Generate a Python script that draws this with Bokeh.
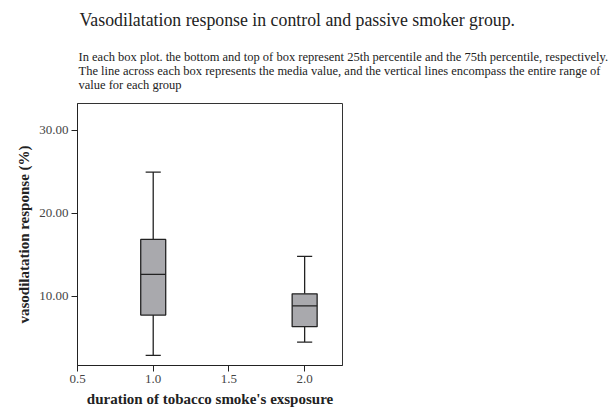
from bokeh.plotting import figure
from bokeh.models import Range1d, Title, FixedTicker, CustomJSTickFormatter, ColumnDataSource
from bokeh.embed import file_html
from bokeh.resources import INLINE

groups = [1.0, 2.0]
mins = [2.9, 4.5]
q1 = [7.75, 6.35]
medians = [12.65, 8.85]
q3 = [16.85, 10.3]
maxs = [24.95, 14.8]
x_ticks = [0.5, 1.0, 1.5, 2.0]
y_ticks = [10, 20, 30]

title_text = "Vasodilatation response in control and passive smoker group."
subtitle_text = ("In each box plot. the bottom and top of box represent 25th percentile and the 75th percentile, respectively.\n"
                 "The line across each box represents the media value, and the vertical lines encompass the entire range of\n"
                 "value for each group")

FONT = "'Liberation Serif', serif"
box_w = 0.165
cap_w = 0.1

src = ColumnDataSource(dict(
    x=groups, lo=mins, q1=q1, med=medians, q3=q3, hi=maxs,
    left=[g - box_w / 2 for g in groups], right=[g + box_w / 2 for g in groups],
    cl=[g - cap_w / 2 for g in groups], cr=[g + cap_w / 2 for g in groups],
))

p = figure(width=610, height=412, output_backend="svg", toolbar_location=None,
           x_range=Range1d(0.5, 2.25), y_range=Range1d(1.68, 33.2),
           min_border_left=77, min_border_right=268, min_border_bottom=47, min_border_top=103)
p.title = None
p.grid.visible = False
p.background_fill_color = "white"
p.outline_line_color = "#333333"

# whiskers
p.segment(x0="x", y0="q3", x1="x", y1="hi", source=src, line_color="#222222", line_width=1.3)
p.segment(x0="x", y0="lo", x1="x", y1="q1", source=src, line_color="#222222", line_width=1.3)
p.segment(x0="cl", y0="hi", x1="cr", y1="hi", source=src, line_color="#222222", line_width=1.3)
p.segment(x0="cl", y0="lo", x1="cr", y1="lo", source=src, line_color="#222222", line_width=1.3)
# boxes
p.quad(left="left", right="right", bottom="q1", top="q3", source=src,
       fill_color="#a9a9ad", line_color="#222222", line_width=1.3)
p.segment(x0="left", y0="med", x1="right", y1="med", source=src, line_color="#222222", line_width=1.3)

p.xaxis.ticker = FixedTicker(ticks=x_ticks)
p.yaxis.ticker = FixedTicker(ticks=y_ticks)
p.xaxis.formatter = CustomJSTickFormatter(code="return tick.toFixed(1);")
p.yaxis.formatter = CustomJSTickFormatter(code="return tick.toFixed(2);")
for ax in (p.xaxis, p.yaxis):
    ax.major_label_text_font = FONT
    ax.major_label_text_font_size = "13px"
    ax.major_label_text_color = "#444444"
    ax.axis_label_text_font = FONT
    ax.axis_label_text_font_size = "15px"
    ax.axis_label_text_font_style = "bold"
    ax.axis_label_text_color = "#222222"
    ax.axis_line_color = "#222222"
    ax.major_tick_line_color = "#222222"
    ax.major_tick_out = 6
    ax.major_tick_in = 0
    ax.minor_tick_line_color = None
p.xaxis.axis_label = "duration of tobacco smoke's exsposure"
p.yaxis.axis_label = "vasodilatation response (%)"
p.xaxis.major_label_standoff = 3
p.yaxis.major_label_standoff = 3
p.xaxis.axis_label_standoff = 5
p.yaxis.axis_label_standoff = 4

p.add_layout(Title(text=subtitle_text, align="left", offset=1, text_font=FONT,
                   text_font_size="12.5px", text_font_style="normal", text_color="#222222",
                   text_line_height=1.0, standoff=24), "above")
p.add_layout(Title(text=title_text, align="left", offset=2, text_font=FONT,
                   text_font_size="17.8px", text_font_style="normal", text_color="#222222",
                   standoff=11), "above")

open("out.html", "w").write(file_html(p, INLINE))
